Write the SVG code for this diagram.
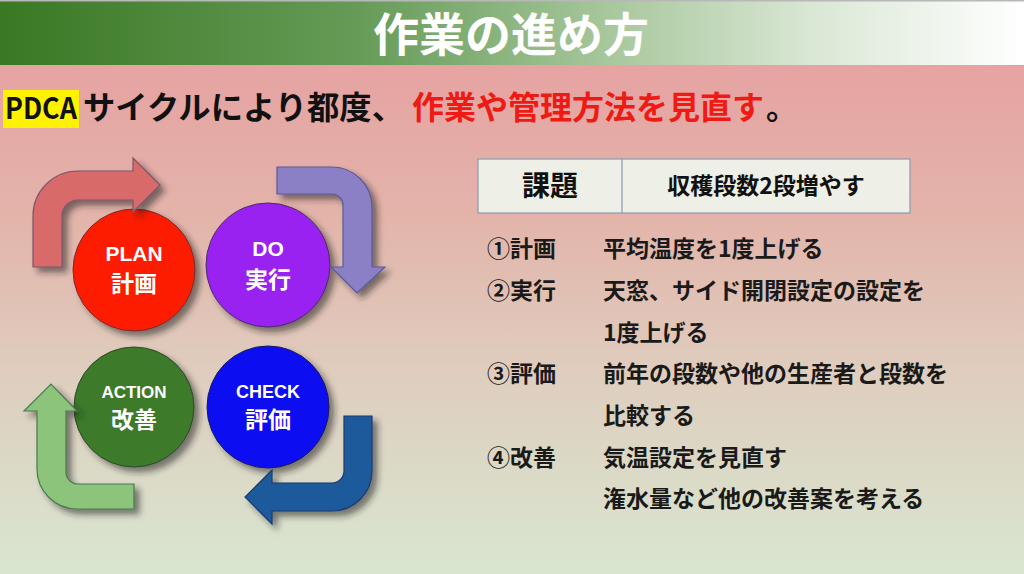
<svg xmlns="http://www.w3.org/2000/svg" width="1024" height="574" viewBox="0 0 1024 574">
<defs>
  <linearGradient id="hdr" x1="0" y1="0" x2="1" y2="0">
    <stop offset="0" stop-color="#3a7823"/>
    <stop offset="0.35" stop-color="#659b57"/>
    <stop offset="0.6" stop-color="#a9c89e"/>
    <stop offset="0.8" stop-color="#dbe8d6"/>
    <stop offset="1" stop-color="#ffffff"/>
  </linearGradient>
  <linearGradient id="bg" x1="0" y1="0" x2="0" y2="1">
    <stop offset="0" stop-color="#e6a3a2"/>
    <stop offset="0.3" stop-color="#e3b4aa"/>
    <stop offset="0.6" stop-color="#dfcdbe"/>
    <stop offset="1" stop-color="#d8e6d0"/>
  </linearGradient>
  <filter id="sh" x="-20%" y="-20%" width="150%" height="150%">
    <feDropShadow dx="5" dy="5" stdDeviation="3" flood-color="#222" flood-opacity="0.55"/>
  </filter>
  <style>
    .jp { font-family: "Noto Sans CJK JP", "Noto Sans", sans-serif; font-weight: bold; }
    .lat { font-family: "Liberation Sans", Arial, sans-serif; font-weight: bold; }
    .ct { fill: #ffffff; text-anchor: middle; }
    .row { font-size: 23px; fill: #1a1a1a; }
    .arrow { filter: url(#sh); stroke-width: 1.2; }
    .circ { filter: url(#sh); stroke-width: 1; }
  </style>
</defs>

<rect x="0" y="65" width="1024" height="509" fill="url(#bg)"/>
<g id="header">
  <rect x="0" y="0" width="1024" height="65" fill="url(#hdr)"/>
  <rect x="0" y="0" width="1024" height="1.5" fill="#b8b8b8"/>
  <text x="511" y="51" class="jp" font-size="46" fill="#ffffff" text-anchor="middle" textLength="276" lengthAdjust="spacingAndGlyphs">作業の進め方</text>
</g>

<g id="subtitle">
  <rect x="3" y="90" width="76" height="38" fill="#fff200"/>
  <text x="5" y="119" class="jp" font-size="29" fill="#111" textLength="72" lengthAdjust="spacingAndGlyphs">PDCA</text>
  <text x="83" y="119" class="jp" font-size="31.5" fill="#111" textLength="321" lengthAdjust="spacingAndGlyphs">サイクルにより都度、</text>
  <text x="412" y="119" class="jp" font-size="31.5" fill="#f01a14" textLength="352" lengthAdjust="spacingAndGlyphs">作業や管理方法を見直す</text>
  <text x="766" y="119" class="jp" font-size="31.5" fill="#111">。</text>
</g>

<g id="node-plan">
  <circle cx="134" cy="270" r="61" fill="#fd1a06" stroke="#7a2a2a" class="circ"/>
  <text x="134" y="261" class="lat ct" font-size="21">PLAN</text>
  <text x="134" y="292" class="jp ct" font-size="23">計画</text>
</g>
<g id="node-do">
  <circle cx="268" cy="265" r="62" fill="#9a20f0" stroke="#4a2a6a" class="circ"/>
  <text x="268" y="256" class="lat ct" font-size="21">DO</text>
  <text x="268" y="288" class="jp ct" font-size="23">実行</text>
</g>
<g id="node-action">
  <circle cx="134" cy="407" r="60" fill="#3c7a2b" stroke="#2a4a2a" class="circ"/>
  <text x="134" y="398" class="lat ct" font-size="17">ACTION</text>
  <text x="134" y="428" class="jp ct" font-size="23">改善</text>
</g>
<g id="node-check">
  <circle cx="268" cy="407" r="61" fill="#0a10f2" stroke="#1a1a5a" class="circ"/>
  <text x="268" y="398" class="lat ct" font-size="18">CHECK</text>
  <text x="268" y="428" class="jp ct" font-size="23">評価</text>
</g>

<g id="connectors">
  <path class="arrow" fill="#d96a6a" stroke="#7a5570" d="M33,267 L33,216 A45,45 0 0 1 78,171 L133,171 L133,158 L160,185 L133,212 L133,200 L78,200 A16,16 0 0 0 62,216 L62,267 Z"/>
  <path class="arrow" fill="#8b80c6" stroke="#5a5a9a" d="M277,167 L332,167 A40,40 0 0 1 372,207 L372,267 L385,267 L357,293 L331,267 L343,267 L343,205 A11,11 0 0 0 332,194 L277,194 Z"/>
  <path class="arrow" fill="#1d5a9c" stroke="#1a3a70" d="M344,416 L372,416 L372,471 A40,40 0 0 1 332,511 L272,511 L272,524 L245,497 L272,470 L272,483 L332,483 A12,12 0 0 0 344,471 Z"/>
  <path class="arrow" fill="#8dc47c" stroke="#4a7a50" d="M66,411 L77,411 L51,384 L24,411 L37,411 L37,469 A40,40 0 0 0 77,509 L134,509 L134,484 L78,484 A12,12 0 0 1 66,472 Z"/>
</g>

<g id="task-table">
  <rect x="478" y="159" width="432" height="54" fill="#eef0e8" stroke="#8a9ab2" stroke-width="1.2"/>
  <line x1="622" y1="159" x2="622" y2="213" stroke="#8a9ab2" stroke-width="1.2"/>
  <text x="550" y="196" class="jp" font-size="28" fill="#111" text-anchor="middle">課題</text>
  <text x="766" y="194" class="jp" font-size="23" fill="#111" text-anchor="middle">収穫段数2段増やす</text>
</g>

<g id="steps" class="jp row">
  <text x="487" y="257">①計画</text>
  <text x="603" y="257">平均温度を1度上げる</text>
  <text x="487" y="299">②実行</text>
  <text x="603" y="299">天窓、サイド開閉設定の設定を</text>
  <text x="603" y="341">1度上げる</text>
  <text x="487" y="382">③評価</text>
  <text x="603" y="382">前年の段数や他の生産者と段数を</text>
  <text x="603" y="424">比較する</text>
  <text x="487" y="466">④改善</text>
  <text x="603" y="466">気温設定を見直す</text>
  <text x="603" y="507">潅水量など他の改善案を考える</text>
</g>
</svg>
